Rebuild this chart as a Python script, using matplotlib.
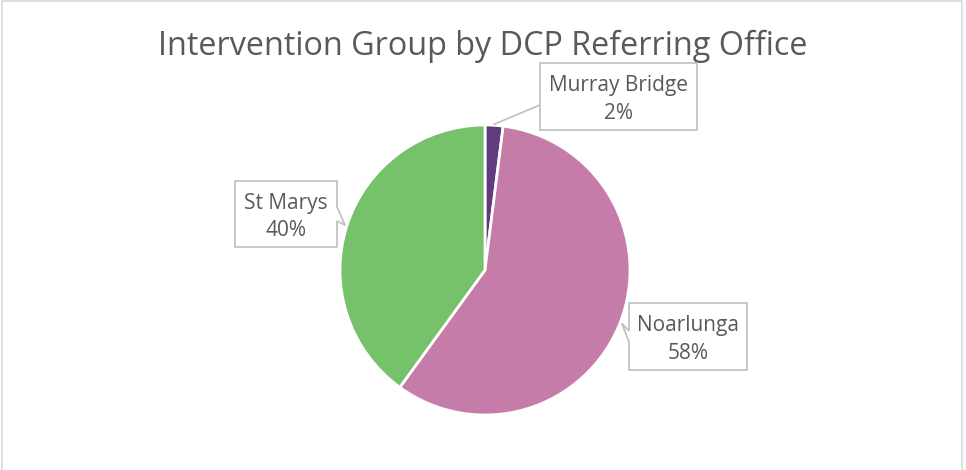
"""
Intervention Group by DCP Referring Office - pie chart.
"""

import numpy as np
import matplotlib.pyplot as plt
from matplotlib.patches import Polygon

title = 'Intervention Group by DCP Referring Office'
offices = ['Murray Bridge', 'Noarlunga', 'St Marys']
shares = [2, 58, 40]
colors = ['#5E3C7E', '#C67CA8', '#75C26B']

W, H = 966, 470
text_grey = '#595959'
edge_grey = '#BFBFBF'

fig = plt.figure(figsize=(W / 100, H / 100), dpi=100)
ax = fig.add_axes([0, 0, 1, 1])

cx, cy, r = 485, H - 270, 145

wedges, _ = ax.pie(shares, colors=colors, startangle=90, counterclock=False,
                   center=(cx, cy), radius=r, frame=True,
                   wedgeprops=dict(edgecolor='white', linewidth=2))
ax.set_xlim(0, W)
ax.set_ylim(0, H)
ax.axis('off')

# outer chart border
ax.plot([2, 2, 962, 962], [0, H - 1, H - 1, 0], color='#D9D9D9', lw=1.2,
        clip_on=False)

ax.text(W / 2, H - 46, title, ha='center', va='center', fontsize=23.3,
        color=text_grey, family='Open Sans')

# label boxes: left, top, right, bottom (pixels from top) and notch side
boxes = {
    'Murray Bridge': (540, 63, 697, 130, 'line'),
    'Noarlunga': (629, 303, 747, 370, 'left'),
    'St Marys': (235, 181, 337, 247, 'right'),
}

total = float(sum(shares))
angle = 90.0
for name, val in zip(offices, shares):
    span = 360.0 * val / total
    mid = np.deg2rad(angle - span / 2)
    angle -= span
    tx, ty = cx + r * np.cos(mid), cy + r * np.sin(mid)
    x0, t0, x1, b0, side = boxes[name]
    y0, y1 = H - b0, H - t0
    ym = (y0 + y1) / 2
    if side == 'left':
        pts = [(x0, y1), (x1, y1), (x1, y0), (x0, y0), (x0, ym - 5.5),
               (tx + 2, ty), (x0, ym + 5.5)]
    elif side == 'right':
        pts = [(x0, y1), (x1, y1), (x1, ym + 7), (tx - 2, ty),
               (x1, ym - 7), (x1, y0), (x0, y0)]
    else:
        pts = [(x0, y1), (x1, y1), (x1, y0), (x0, y0)]
        ax.plot([x0, tx], [H - 105, ty + 1], color=edge_grey, lw=1.2)
    ax.add_patch(Polygon(pts, closed=True, facecolor='white',
                         edgecolor=edge_grey, lw=1.2, zorder=3))
    ax.text((x0 + x1) / 2, ym - 3, '%s\n%d%%' % (name, round(100 * val / total)),
            ha='center', va='center', fontsize=15, color=text_grey,
            family='Open Sans', linespacing=1.4, zorder=4)

fig.savefig('out.png', dpi=100, facecolor='white')
